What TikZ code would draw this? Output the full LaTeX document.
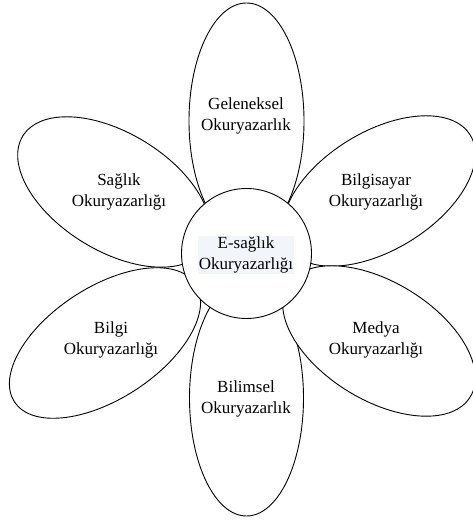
\documentclass[tikz,border=0pt]{standalone}
\usepackage{fontspec}
\setmainfont{Liberation Serif}
\usetikzlibrary{positioning}
\definecolor{hilite}{RGB}{242,245,250}

\begin{document}
\begin{tikzpicture}[
  x=1pt, y=1pt,
  petal/.style={draw, fill=white, line width=0.9pt},
  hub/.style={draw, circle, fill=white, line width=0.9pt, minimum size=130pt, inner sep=0pt},
  txt/.style={align=center, inner sep=1pt, font=\fontsize{17}{21}\selectfont}
]
\useasboundingbox (0,0) rectangle (472,521);

% petals
\draw[petal] (246.5,400) ellipse [x radius=57.5, y radius=118];
\draw[petal] (246.5,123) ellipse [x radius=57, y radius=118];
\draw[petal, shift={(379,330)}, rotate=31.5] (0,0) ellipse [x radius=107, y radius=59];
\draw[petal, shift={(379,180)}, rotate=-31.5] (0,0) ellipse [x radius=107, y radius=59];
\draw[petal, shift={(114,329)}, rotate=-31.5] (0,0) ellipse [x radius=107, y radius=59];
\draw[petal, shift={(105,178)}, rotate=33] (0,0) ellipse [x radius=108, y radius=56];

% centre
\node[hub] (hub) at (246.5,267.5) {};
\node[txt, fill=hilite] (ehealth) at (246,266) {E-sağlık\\Okuryazarlığı};

\node[txt] (trad) at (246,405) {Geleneksel\\Okuryazarlık};
\node[txt] (health) at (119,329) {Sağlık\\Okuryazarlığı};
\node[txt] (comp) at (376,329) {Bilgisayar\\Okuryazarlığı};
\node[txt] (info) at (111,181) {Bilgi\\Okuryazarlığı};
\node[txt] (media) at (376,181) {Medya\\Okuryazarlığı};
\node[txt] (sci) at (246,122) {Bilimsel\\Okuryazarlık};
\end{tikzpicture}
\end{document}
